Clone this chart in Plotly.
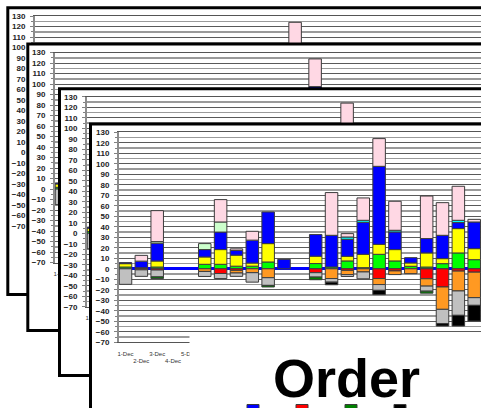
import plotly.graph_objects as go

# ---------------- data ----------------
days = [f"{d}-Dec" for d in range(1, 24)]
tick_days = days[:5]
tick_text = ["1-Dec", "<br>2-Dec", "3-Dec", "<br>4-Dec", "5-Dec"]

lime = [1.7, 1.0, 1.7, None, None, 4.3, 4.3, 2.5, 2.5, 6.5, None, None, 5.0, 1.7, 7.5, 1.1, 13.8, 7.5, 2.4, 1.7, 4.9, 15.1, 8.7]
yellow = [3.2, None, 5.7, None, None, 7.0, 14.0, 10.5, 3.0, 17.5, None, None, 7.0, None, 4.4, 12.7, 9.5, 10.8, 3.2, 13.4, 4.8, 23.2, 10.5]
blue = [1.0, 6.3, 17.0, None, None, 7.0, 16.7, 4.5, 21.8, 30.1, 9.0, None, 20.6, 30.2, 16.2, 30.5, 74.3, 16.8, 5.0, 13.7, 22.2, 5.7, 25.4]
cyan = [None, None, None, None, None, None, None, None, None, None, None, None, None, None, 2.2, 1.9, None, 1.6, None, None, None, 2.2, None]
light_green = [None, None, 1.5, None, None, 5.7, 9.6, None, None, None, None, None, None, None, None, None, None, None, None, None, None, None, None]
pink = [None, 5.5, 29.5, None, None, None, 21.3, 1.5, 8.4, None, None, None, None, 40.7, 3.2, 21.3, 26.4, 27.6, None, 40.5, 31.1, 32.4, 2.5]

red = [None, -1.0, -1.2, None, None, None, -4.5, -1.5, None, None, None, None, -3.7, None, -1.5, None, -9.3, -2.0, None, -9.5, -17.3, -2.2, -3.2]
orange = [None, None, None, None, None, -2.5, None, -2.5, -3.7, -8.5, None, None, None, -9.3, -4.0, -3.0, -5.7, -3.5, -4.6, -7.0, -21.3, -18.9, -24.3]
grey = [-14.8, -6.2, -6.5, None, None, -4.8, -4.8, -3.2, -9.0, -7.3, None, None, -4.2, -3.4, -1.8, -6.5, -5.5, None, None, -4.8, -13.6, -23.2, -7.3]
dark_green = [None, None, -1.6, None, None, None, None, None, None, -1.5, None, None, -2.5, None, None, None, None, None, None, -1.9, None, None, None]
black = [None, None, None, None, None, None, None, None, None, None, None, None, None, -2.5, None, None, -4.1, None, None, None, -2.3, -10.2, -14.9]

series = [
    ("Sales", lime, "#00FF00", None),
    ("Stock", yellow, "#FFFF00", None),
    ("Non FIS", blue, "#0000FF", 1),
    ("Transfers", cyan, "#00FFFF", None),
    ("Forecast", light_green, "#CCFFCC", None),
    ("Backlog", pink, "#FFD8E4", None),
    ("Cost P.O.", red, "#FF0000", 2),
    ("Returns", orange, "#FF9922", None),
    ("Adjust", grey, "#C0C0C0", None),
    ("Rebate", dark_green, "#008000", 3),
    ("Other adjustments", black, "#000000", 4),
]

# ---------------- layout geometry ----------------
W, H = 481, 408
PX_PER_UNIT = 1.05
PITCH = 15.85
FIRST_OFF = 6.5
cards = [
    dict(L=7.8, T=7.8, B=294.5, plotL=35.0, plotT=16.0),
    dict(L=27.8, T=44.0, B=330.5, plotL=55.0, plotT=52.6),
    dict(L=59.5, T=88.7, B=375.5, plotL=87.0, plotT=96.8),
    dict(L=90.5, T=124.0, B=410.7, plotL=119.0, plotT=132.3),
]

def pyp(y):
    return 1 - y / H

fig = go.Figure()
layout = {}
shapes = []

def axname(n, letter):
    return letter if n == 1 else f"{letter}{n}"

def axkey(n, letter):
    return f"{letter}axis" if n == 1 else f"{letter}axis{n}"

for k, c in enumerate(cards):
    nb = 2 * k + 1
    nc = 2 * k + 2
    # background card subplot
    ybot = min(c["B"] + 2, H)
    layout[axkey(nb, "x")] = dict(domain=[(c["L"] - 2) / W, 1], range=[c["L"] - 2, W],
                                  visible=False, anchor=axname(nb, "y"), fixedrange=True)
    layout[axkey(nb, "y")] = dict(domain=[pyp(ybot), pyp(c["T"] - 2)], range=[ybot, c["T"] - 2],
                                  visible=False, anchor=axname(nb, "x"), fixedrange=True)
    fig.add_trace(go.Scatter(x=[c["L"] + 5], y=[c["T"] + 5], mode="markers",
                             marker=dict(opacity=0, size=1), showlegend=False, hoverinfo="skip",
                             xaxis=axname(nb, "x"), yaxis=axname(nb, "y")))
    shapes.append(dict(type="rect", xref=axname(nb, "x"), yref=axname(nb, "y"), layer="below",
                       x0=c["L"], x1=W + 20, y0=c["T"], y1=c["B"],
                       fillcolor="white", line=dict(color="black", width=3)))

    # chart subplot
    plotB = c["plotT"] + 200 * PX_PER_UNIT
    r0 = -FIRST_OFF / PITCH
    r1 = r0 + (W - c["plotL"]) / PITCH
    for name, vals, col, rank in series:
        fig.add_trace(go.Bar(
            x=days, y=vals, name=name, width=0.79,
            marker=dict(color=col, line=dict(color="#3c3c3c", width=1)),
            showlegend=(k == 3 and rank is not None),
            legendrank=rank if rank else 1000,
            hoverinfo="skip",
            xaxis=axname(nc, "x"), yaxis=axname(nc, "y")))
    layout[axkey(nc, "x")] = dict(
        domain=[c["plotL"] / W, 1], range=[r0, r1], type="category",
        anchor=axname(nc, "y"), showgrid=False, zeroline=False,
        showline=True, linecolor="#555555", linewidth=1, mirror=True,
        tickmode="array", tickvals=tick_days, ticktext=tick_text, tickangle=0,
        ticks="", ticklabelstandoff=5,
        tickfont=dict(family="Liberation Sans, Arial", size=6, color="#333333"),
        fixedrange=True)
    layout[axkey(nc, "y")] = dict(
        domain=[pyp(plotB), pyp(c["plotT"])], range=[-70, 130],
        anchor=axname(nc, "x"), tickmode="linear", tick0=0, dtick=10,
        showgrid=True, gridcolor="#5a5a5a", gridwidth=1,
        minor=dict(dtick=5, showgrid=True, gridcolor="#9a9a9a", gridwidth=1.5,
                   ticks="outside", ticklen=2, tickcolor="#808080"),
        ticks="outside", ticklen=3, tickcolor="#808080",
        showline=True, linecolor="#8c8c8c", linewidth=2,
        zeroline=True, zerolinecolor="#0000FF", zerolinewidth=3,
        ticklabelstandoff=3,
        tickfont=dict(family="Liberation Sans, Arial", size=8, color="#222222", weight="bold"),
        fixedrange=True)

# mask that cuts the front chart's bottom-right area (as in the picture)
shapes.append(dict(type="rect", xref="paper", yref="paper", layer="above",
                   x0=189.5 / W, x1=1.01, y0=pyp(357), y1=pyp(333.5),
                   fillcolor="white", line=dict(width=0)))

fig.update_layout(
    width=W, height=H, autosize=False,
    margin=dict(l=0, r=0, t=0, b=0, pad=0, autoexpand=False),
    paper_bgcolor="white", plot_bgcolor="rgba(0,0,0,0)",
    barmode="relative", bargap=0.21,
    showlegend=True,
    legend=dict(orientation="h", x=233 / W, xanchor="left", y=pyp(396), yanchor="top",
                font=dict(family="Liberation Sans, Arial", size=6, color="#333333"),
                entrywidth=4, entrywidthmode="pixels", itemwidth=30,
                bgcolor="rgba(0,0,0,0)", traceorder="normal"),
    shapes=shapes,
    annotations=[dict(text="Order", xref="paper", yref="paper", x=271 / W, y=pyp(378),
                      xanchor="left", yanchor="middle", showarrow=False,
                      font=dict(family="Liberation Sans, Arial", size=54, color="black", weight="bold"))],
    hovermode=False, dragmode=False,
    **layout,
)

fig.write_html("out.html", config={"displayModeBar": False, "staticPlot": True},
               post_script="document.body.style.margin='0';document.body.style.overflow='hidden';")
